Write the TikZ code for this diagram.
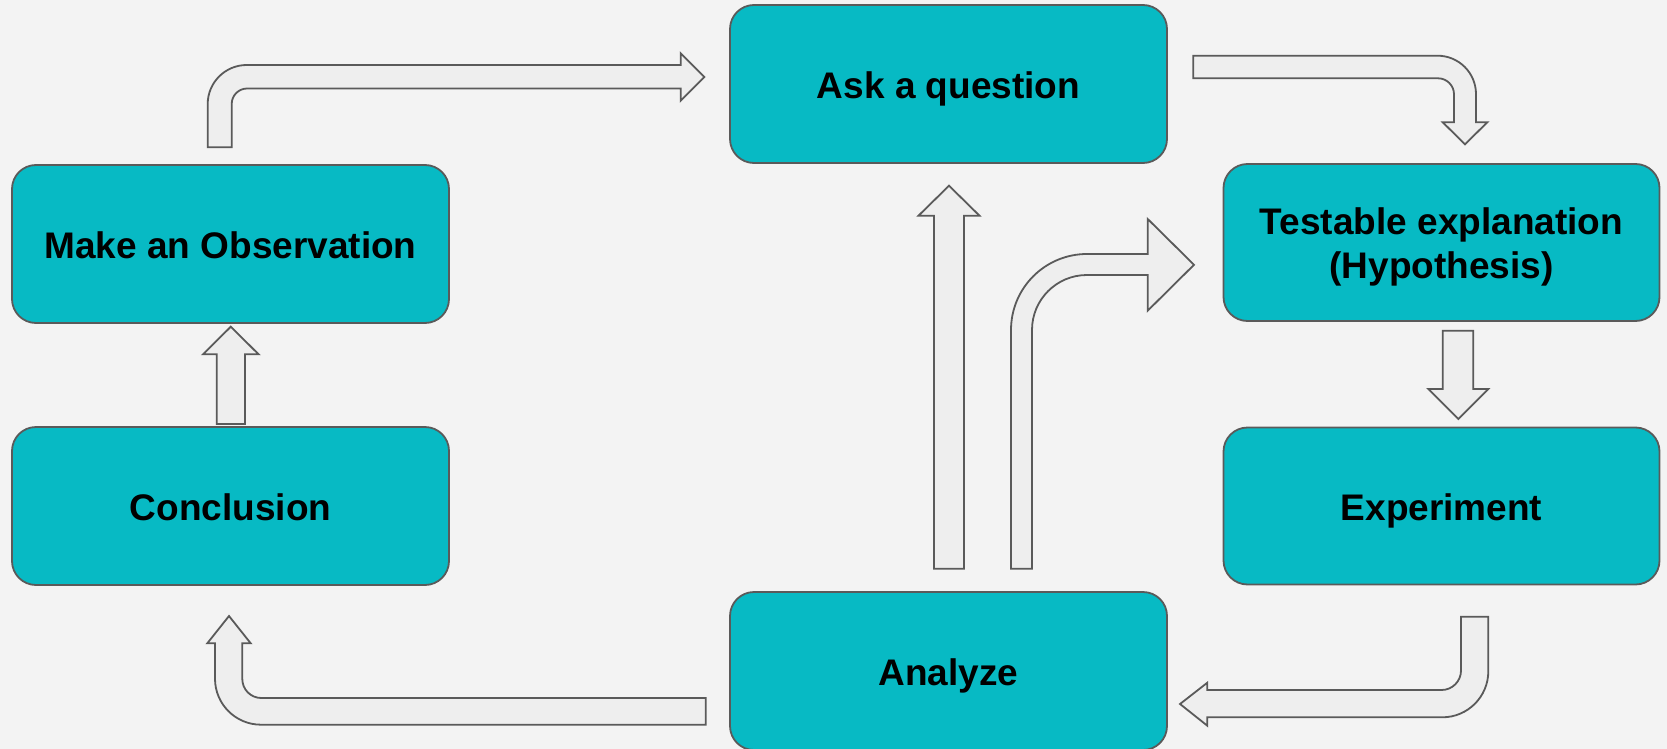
\documentclass[tikz,border=0pt]{standalone}
\usepackage{fontspec}
\setmainfont{Liberation Sans}
\definecolor{bgc}{RGB}{243,243,243}
\definecolor{teal}{RGB}{7,186,196}
\definecolor{edge}{RGB}{90,90,90}
\definecolor{afill}{RGB}{238,238,238}
\tikzset{
  stepbox/.style={draw=edge, line width=1.8pt, fill=teal, rounded corners=24pt,
    minimum width=437pt, minimum height=158pt, inner sep=0pt, align=center,
    font=\fontsize{37}{44}\selectfont\bfseries, text=black},
  oneline/.style={text height=37pt, text depth=8pt},
  blockarrow/.style={draw=edge, line width=1.8pt, fill=afill, line join=miter},
}
\begin{document}
\begin{tikzpicture}[x=1pt,y=-1pt]
\fill[bgc] (0,0) rectangle (1667,749);
\useasboundingbox (0,0) rectangle (1667,749);
\clip (0,0) rectangle (1667,749);
% boxes
\node[stepbox, oneline] (ask) at (948.5,84) {Ask a question};
\node[stepbox, oneline] (obs) at (230.5,244) {Make an Observation};
\node[stepbox, oneline] (con) at (230.5,506) {Conclusion};
\node[stepbox, minimum width=436pt, minimum height=157pt] (hyp) at (1441.5,242.5) {\rule{0pt}{36pt}Testable explanation\\(Hypothesis)};
\node[stepbox, oneline, minimum width=436pt, minimum height=157pt] (exp) at (1441.5,506) {Experiment};
\node[stepbox, oneline] (ana) at (948.5,671) {Analyze};
% observation -> ask
\draw[blockarrow] (207.7,147.3) -- (207.7,104) .. controls (207.7,82.5) and (225.2,65) .. (246.7,65)
  -- (680.7,65) -- (680.7,53.3) -- (704.3,77) -- (680.7,100.7) -- (680.7,88.5) -- (247.2,88.5)
  .. controls (238.6,88.5) and (231.7,95.4) .. (231.7,104) -- (231.7,147.3) -- cycle;
% ask -> hypothesis
\draw[blockarrow] (1193.3,55.7) -- (1437.5,55.7) .. controls (1458.8,55.7) and (1476,72.9) .. (1476,94.2)
  -- (1476,122.3) -- (1487.3,122.3) -- (1465,144.3) -- (1442.7,122.3) -- (1454,122.3) -- (1454,94.3)
  .. controls (1454,85.5) and (1446.8,78.3) .. (1438,78.3) -- (1193.3,78.3) -- cycle;
% hypothesis -> experiment
\draw[blockarrow] (1442.7,330.7) -- (1473.3,330.7) -- (1473.3,389) -- (1488.3,389) -- (1458.3,419)
  -- (1428.3,389) -- (1442.7,389) -- cycle;
% experiment -> analyze
\draw[blockarrow] (1461,616.7) -- (1488.3,616.7) -- (1488.3,671.3) .. controls (1488.3,696.7) and (1467.7,717.3) .. (1442.3,717.3)
  -- (1207.3,717.3) -- (1207.3,725.7) -- (1180,704) -- (1207.3,682.7) -- (1207.3,690) -- (1441.5,690)
  .. controls (1452.3,690) and (1461,681.3) .. (1461,670.5) -- cycle;
% analyze -> ask
\draw[blockarrow] (934,568.8) -- (934,215.7) -- (918.5,215.7) -- (949,185.7) -- (979.5,215.7) -- (964,215.7)
  -- (964,568.8) -- cycle;
% analyze -> hypothesis
\draw[blockarrow] (1011,568.8) -- (1011,330) .. controls (1011,288) and (1045,254) .. (1087,254)
  -- (1147.7,254) -- (1147.7,219) -- (1194,264.8) -- (1147.7,310.7) -- (1147.7,275) -- (1087,275)
  .. controls (1056.6,275) and (1032,299.6) .. (1032,330) -- (1032,568.8) -- cycle;
% analyze -> conclusion
\draw[blockarrow] (705.7,698) -- (261.3,698) .. controls (250.8,698) and (242.3,689.5) .. (242.3,679)
  -- (242.3,643.3) -- (250.7,643.3) -- (229,616) -- (207.3,643.3) -- (215,643.3) -- (215,678.7)
  .. controls (215,704.1) and (235.6,724.7) .. (261,724.7) -- (705.7,724.7) -- cycle;
% conclusion -> observation
\draw[blockarrow] (216.7,424) -- (216.7,354.3) -- (203,354.3) -- (230.8,326.7) -- (258.6,354.3)
  -- (245,354.3) -- (245,424) -- cycle;
\end{tikzpicture}
\end{document}
